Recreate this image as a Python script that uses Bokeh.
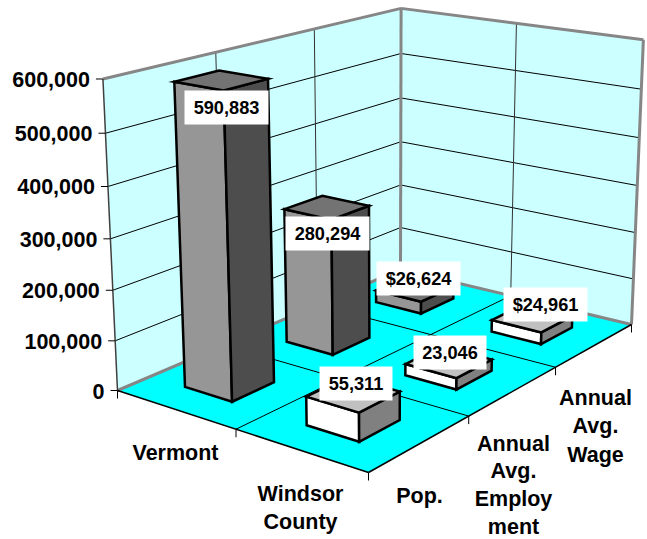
import numpy as np
from bokeh.plotting import figure
from bokeh.models import Range1d
from bokeh.core.properties import value
from bokeh.embed import file_html
from bokeh.resources import INLINE

# ---- data ----
groups = ["Vermont", "Windsor County"]
measures = ["Pop.", "Annual Avg. Employ ment", "Annual Avg. Wage"]
vermont_values = [590883, 280294, 26624]
windsor_values = [55311, 23046, 24961]
vermont_labels = ["590,883", "280,294", "$26,624"]
windsor_labels = ["55,311", "23,046", "$24,961"]
value_ticks = [0, 100000, 200000, 300000, 400000, 500000, 600000]
value_tick_labels = ["0", "100,000", "200,000", "300,000", "400,000", "500,000", "600,000"]

# ---- layout: perspective camera fitted from the chart box corners (page px) ----
W, H = 647, 539
ZMAX = 600000.0
floor_px = {(0, 0): (117, 390), (2, 0): (368, 472), (2, 3): (631, 324), (0, 3): (400, 269)}
top_px = {(0, 0): (103, 80), (0, 3): (400, 6), (2, 3): (643, 40)}

def camera():
    rows, rhs = [], []
    for (u, v), (x, y) in floor_px.items():
        rows.append([u, v, 1, 0, 0, 0, -x * u, -x * v]); rhs.append(x)
        rows.append([0, 0, 0, u, v, 1, -y * u, -y * v]); rhs.append(y)
    h = np.linalg.solve(np.array(rows, float), np.array(rhs, float))
    base = np.array([[h[0], h[1], h[2]], [h[3], h[4], h[5]], [h[6], h[7], 1.0]])
    rows, rhs = [], []
    for (u, v), (x, y) in top_px.items():
        p = base @ np.array([u, v, 1.0])
        rows.append([1, 0, -x]); rhs.append(x * p[2] - p[0])
        rows.append([0, 1, -y]); rhs.append(y * p[2] - p[1])
    hz = np.linalg.lstsq(np.array(rows, float), np.array(rhs, float), rcond=None)[0]
    return np.column_stack([base[:, 0], base[:, 1], hz, base[:, 2]])

CAM = camera()

def proj(u, v, val=0.0):
    q = CAM @ np.array([u, v, val / ZMAX, 1.0])
    return q[0] / q[2], q[1] / q[2]

def poly(points):
    pts = [proj(*pt) for pt in points]
    return [a for a, _ in pts], [b for _, b in pts]

p = figure(width=W, height=H, x_range=Range1d(0, W), y_range=Range1d(H, 0),
           output_backend="svg", toolbar_location=None, min_border=0)
p.axis.visible = False
p.grid.visible = False
p.outline_line_color = None
p.background_fill_color = "white"

FONT = value("Liberation Sans")
WALL, FLOOR, EDGE = "#CCFFFF", "#00FFFF", "#868686"

def face(points, fill, line="black", lw=2.5):
    xs, ys = poly(points)
    p.patch(xs, ys, fill_color=fill, line_color=line, line_width=lw, line_join="miter")

def seg(a, b, color="black", lw=1.0):
    xs, ys = poly([a, b])
    p.line(xs, ys, line_color=color, line_width=lw)

# walls
face([(0, 0, 0), (0, 3, 0), (0, 3, ZMAX), (0, 0, ZMAX)], WALL, None, 0)
face([(0, 3, 0), (2, 3, 0), (2, 3, ZMAX), (0, 3, ZMAX)], WALL, None, 0)
for t in value_ticks[1:-1]:
    seg((0, 0, t), (0, 3, t))
    seg((0, 3, t), (2, 3, t))
for i in range(1, len(measures)):
    seg((0, i, 0), (0, i, ZMAX), "#303030")
for i in range(1, len(groups)):
    seg((i, 3, 0), (i, 3, ZMAX), "#303030")

# floor
face([(0, 0, 0), (2, 0, 0), (2, 3, 0), (0, 3, 0)], FLOOR, None, 0)
for i in range(1, len(groups)):
    seg((i, 0, 0), (i, 3, 0))
for i in range(1, len(measures)):
    seg((0, i, 0), (2, i, 0))

# wall borders
for a, b in [((0, 3, 0), (0, 3, ZMAX)), ((0, 3, ZMAX), (0, 0, ZMAX)), ((0, 3, ZMAX), (2, 3, ZMAX)),
             ((2, 3, 0), (2, 3, ZMAX)), ((0, 0, 0), (0, 3, 0)), ((0, 3, 0), (2, 3, 0))]:
    seg(a, b, EDGE, 3)
seg((0, 0, 0), (0, 0, ZMAX), "#404040", 1.5)
seg((0, 0, 0), (2, 0, 0), "black", 1.5)
seg((2, 0, 0), (2, 3, 0), "black", 1.5)

# axis ticks and labels
for t, lab in zip(value_ticks, value_tick_labels):
    x, y = proj(0, 0, t)
    p.line([x - 7, x], [y, y], line_color="black", line_width=1)
    p.text([x - 13], [y + 0.5], text=[lab], text_font=FONT, text_font_size="21.5px", text_font_style="bold",
           text_align="right", text_baseline="middle", text_color="black")
for i in range(len(groups) + 1):
    x, y = proj(i, 0)
    p.line([x, x], [y, y + 8], line_color="black", line_width=1)
for i in range(1, len(measures) + 1):
    x, y = proj(2, i)
    p.line([x, x], [y, y + 8], line_color="black", line_width=1)

# bars, back to front
GAP_U, GAP_V = 0.30, 0.30
series = [(vermont_values, "#969696", "#4D4D4D", "#737373"),
          (windsor_values, "#FFFFFF", "#808080", "#C0C0C0")]
order = sorted([(iu, iv) for iu in range(2) for iv in range(3)], key=lambda c: c[0] - c[1])
for iu, iv in order:
    vals, front, side, top = series[iu]
    z = vals[iv]
    u0, u1, v0, v1 = iu + GAP_U, iu + 1 - GAP_U, iv + GAP_V, iv + 1 - GAP_V
    face([(u0, v0, 0), (u1, v0, 0), (u1, v0, z), (u0, v0, z)], front)
    face([(u1, v0, 0), (u1, v1, 0), (u1, v1, z), (u1, v0, z)], side)
    face([(u0, v0, z), (u1, v0, z), (u1, v1, z), (u0, v1, z)], top)

# data labels (centres in page px)
label_centers = [[(226, 107), (327, 233), (418, 278)], [(355.5, 383), (449.5, 352), (545, 304)]]
for labs, centers in zip([vermont_labels, windsor_labels], label_centers):
    for lab, (cx, cy) in zip(labs, centers):
        w = 84 if len(lab) == 7 else 73
        p.rect([cx], [cy], width=w, height=34, fill_color="white", line_color=None)
        p.text([cx], [cy], text=[lab], text_font=FONT, text_font_size="18.2px", text_font_style="bold",
               text_align="center", text_baseline="middle", text_color="black")

# category labels, wrapped as in the chart
cat_lines = [(175, 452, 28.6, ["Vermont"]), (300, 493, 28.6, ["Windsor", "County"]), (419, 495, 28.6, ["Pop."]),
             (513, 443, 27.8, ["Annual", "Avg.", "Employ", "ment"]), (595, 397, 28.6, ["Annual", "Avg.", "Wage"])]
for cx, cy, step, lines in cat_lines:
    for k, line in enumerate(lines):
        p.text([cx], [cy + k * step], text=[line], text_font=FONT, text_font_size="21.5px",
               text_font_style="bold", text_align="center", text_baseline="middle", text_color="black")

open("out.html", "w").write(file_html(p, INLINE))
